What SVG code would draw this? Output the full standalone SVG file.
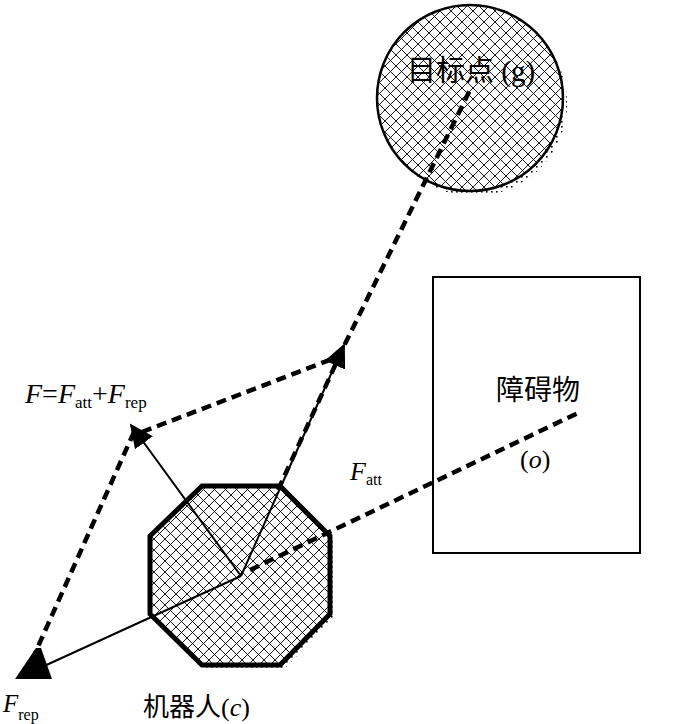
<svg xmlns="http://www.w3.org/2000/svg" width="700" height="724" viewBox="0 0 700 724">
<style>
.txt{font-family:"Liberation Serif","Noto Sans CJK SC",serif;fill:#000}
.cjk{font-family:"Noto Sans CJK SC","Liberation Sans",sans-serif;fill:#000}
.it{font-style:italic}
.solid{stroke:#000;stroke-width:2;fill:none}
.dash{stroke:#000;stroke-width:4.5;fill:none;stroke-dasharray:10 6}
</style>
<defs>
<pattern id="hatch" width="11" height="11" patternUnits="userSpaceOnUse">
<path d="M0,0 L11,11 M11,0 L0,11" stroke="#000" stroke-width="0.9" fill="none"/>
</pattern>
<pattern id="dots" width="5" height="5" patternUnits="userSpaceOnUse">
<rect x="1" y="1" width="1.6" height="1.6" fill="#000"/>
</pattern>
<marker id="arr" viewBox="0 0 24 22" refX="22" refY="11" markerWidth="24" markerHeight="22" markerUnits="userSpaceOnUse" orient="auto">
<path d="M0,0 L24,11 L0,22 z" fill="#000"/>
</marker>
</defs>
<rect width="700" height="724" fill="#fff"/>

<g id="goal">
<circle cx="474" cy="103" r="93" fill="url(#dots)"/>
<circle cx="470" cy="98" r="93" fill="#fff"/>
<circle cx="470" cy="98" r="93" fill="url(#hatch)" stroke="#000" stroke-width="2.5"/>
<text class="txt" x="407" y="81" font-size="29">目标点 (g)</text>
</g>

<g id="obstacle">
<rect x="433" y="277" width="207" height="276" fill="none" stroke="#000" stroke-width="2"/>
<text class="cjk" x="496" y="400" font-size="28">障碍物</text>
<text class="txt" x="520" y="468" font-size="26">(<tspan class="it">o</tspan>)</text>
</g>

<g id="robot">
<polygon points="206,490 284,490 334,540 334,618 284,669 206,669 154,618 154,540" fill="url(#dots)"/>
<polygon points="202,486 280,486 330,536 330,614 280,665 202,665 150,614 150,536" fill="#fff"/>
<polygon points="202,486 280,486 330,536 330,614 280,665 202,665 150,614 150,536" fill="url(#hatch)" stroke="#000" stroke-width="5" stroke-linejoin="miter"/>
<text class="cjk" x="143" y="716" font-size="26">机器人<tspan class="txt">(<tspan class="it">c</tspan>)</tspan></text>
</g>

<g id="connectors">
<line class="solid" x1="241" y1="576" x2="131" y2="425" marker-end="url(#arr)"/>
<line class="solid" x1="241" y1="576" x2="344" y2="345" marker-end="url(#arr)"/>
<line class="solid" x1="241" y1="576" x2="42" y2="667"/>
<polygon points="15,679 52,679 41,648 36,648" fill="#000"/>
<polyline class="dash" points="32,660 134,432"/>
<polyline class="dash" points="142,432 340,356"/>
<polyline class="dash" points="278,490 344,346 470,90"/>
<polyline class="dash" points="250,570 580,412"/>
</g>

<g id="labels">
<text class="txt" x="25" y="403" font-size="28"><tspan class="it">F</tspan>=<tspan class="it">F</tspan><tspan font-size="17" dy="5">att</tspan><tspan dy="-5">+</tspan><tspan class="it">F</tspan><tspan font-size="17" dy="5">rep</tspan></text>
<text class="txt" x="350" y="480" font-size="26"><tspan class="it">F</tspan><tspan font-size="16" dy="5">att</tspan></text>
<text class="txt" x="3" y="712" font-size="25"><tspan class="it">F</tspan><tspan font-size="16" dy="8">rep</tspan></text>
</g>
</svg>
